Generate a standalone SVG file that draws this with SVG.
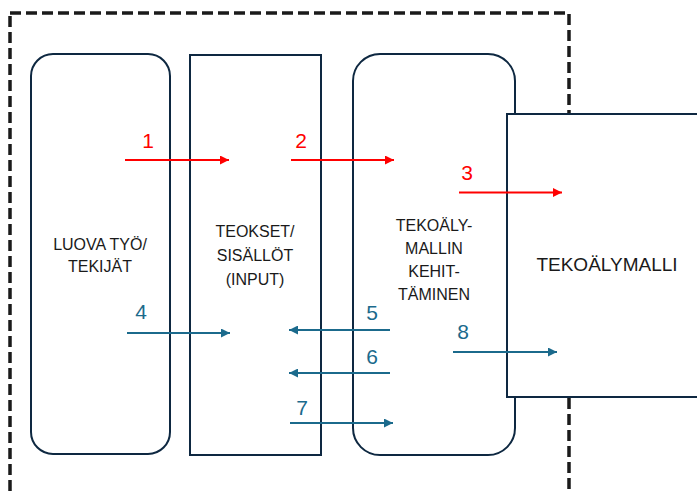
<svg xmlns="http://www.w3.org/2000/svg" width="697" height="493" viewBox="0 0 697 493">
<defs>
<style>
.box{fill:#fff;stroke:#0e2841;stroke-width:2}
.t{font-family:"Liberation Sans",Arial,sans-serif;font-size:16px;fill:#1a1a1a;text-anchor:middle}
.big{font-size:19px}
.red{stroke:#ff0000;stroke-width:2;fill:none}
.blue{stroke:#1b6a8c;stroke-width:2;fill:none}
.nr{font-family:"Liberation Sans",Arial,sans-serif;font-size:21px;fill:#ff0000;text-anchor:middle}
.nb{font-family:"Liberation Sans",Arial,sans-serif;font-size:21px;fill:#1b6a8c;text-anchor:middle}
</style>
<marker id="ar" viewBox="0 0 10 10" refX="10" refY="5" markerWidth="5" markerHeight="4.5" markerUnits="strokeWidth" orient="auto"><path d="M0,0 L10,5 L0,10 z" fill="#ff0000"/></marker>
<marker id="ab" viewBox="0 0 10 10" refX="10" refY="5" markerWidth="5" markerHeight="4.5" markerUnits="strokeWidth" orient="auto"><path d="M0,0 L10,5 L0,10 z" fill="#1b6a8c"/></marker>
</defs>
<rect width="697" height="493" fill="#fff"/>
<rect id="boundary" x="10" y="13" width="559" height="520" fill="none" stroke="#1a1a1a" stroke-width="3.5" stroke-dasharray="11 5"/>
<g id="luova">
<rect class="box" x="31" y="54" width="139" height="400" rx="22"/>
<text class="t" x="100" y="250">LUOVA TYÖ/</text>
<text class="t" x="100" y="272">TEKIJÄT</text>
</g>
<g id="teokset">
<rect class="box" x="190" y="55" width="131" height="400"/>
<text class="t" x="255" y="237">TEOKSET/</text>
<text class="t" x="255" y="261">SISÄLLÖT</text>
<text class="t" x="255" y="285">(INPUT)</text>
</g>
<g id="kehittaminen">
<rect class="box" x="353" y="54" width="162" height="401" rx="27"/>
<text class="t" x="434" y="231">TEKOÄLY-</text>
<text class="t" x="434" y="254">MALLIN</text>
<text class="t" x="434" y="277">KEHIT-</text>
<text class="t" x="434" y="300">TÄMINEN</text>
</g>
<g id="tekoalymalli">
<rect class="box" x="507" y="114" width="200" height="283"/>
<text class="t big" x="607" y="271">TEKOÄLYMALLI</text>
</g>
<g id="connectors">
<line class="red" x1="125" y1="160" x2="229" y2="160" marker-end="url(#ar)"/>
<line class="red" x1="291" y1="160" x2="394" y2="160" marker-end="url(#ar)"/>
<line class="red" x1="459" y1="192.5" x2="562" y2="192.5" marker-end="url(#ar)"/>
<line class="blue" x1="127" y1="333" x2="230" y2="333" marker-end="url(#ab)"/>
<line class="blue" x1="390" y1="330" x2="289" y2="330" marker-end="url(#ab)"/>
<line class="blue" x1="390" y1="373" x2="289" y2="373" marker-end="url(#ab)"/>
<line class="blue" x1="290" y1="423" x2="393" y2="423" marker-end="url(#ab)"/>
<line class="blue" x1="453" y1="352" x2="557" y2="352" marker-end="url(#ab)"/>
<text class="nr" x="148" y="148">1</text>
<text class="nr" x="301" y="148">2</text>
<text class="nr" x="467" y="180">3</text>
<text class="nb" x="141" y="319">4</text>
<text class="nb" x="372" y="320">5</text>
<text class="nb" x="372" y="364">6</text>
<text class="nb" x="302" y="415">7</text>
<text class="nb" x="463" y="339">8</text>
</g>
</svg>
